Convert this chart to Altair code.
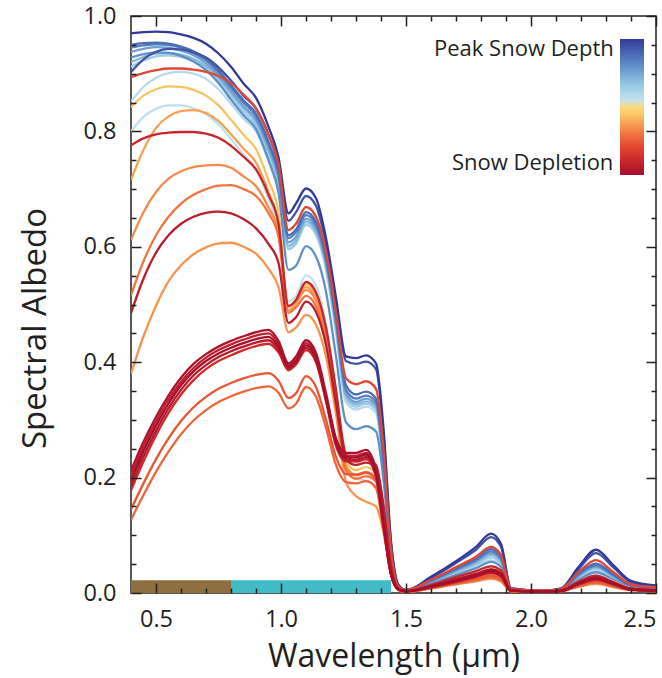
import altair as alt
import pandas as pd

# ---------------- data ----------------
WAVELENGTH = [0.40, 0.45, 0.50, 0.55, 0.60, 0.65, 0.70, 0.75, 0.80, 0.85, 0.90, 0.95, 0.99,
              1.03, 1.06, 1.10, 1.14, 1.18, 1.22, 1.26, 1.30, 1.34, 1.38, 1.41, 1.44, 1.47,
              1.50, 1.60, 1.70, 1.78, 1.84, 1.88, 1.92, 2.05, 2.12, 2.19, 2.26, 2.33, 2.40, 2.50]

c01 = [0.970, 0.972, 0.973, 0.972, 0.968, 0.962, 0.952, 0.935, 0.912, 0.883, 0.858, 0.808, 0.755,
       0.658, 0.675, 0.701, 0.684, 0.615, 0.512, 0.410, 0.407, 0.412, 0.398, 0.285, 0.090, 0.014,
       0.005, 0.028, 0.055, 0.080, 0.103, 0.085, 0.008, 0.004, 0.008, 0.045, 0.075, 0.048, 0.021, 0.013]
c02 = [0.903, 0.925, 0.938, 0.943, 0.942, 0.937, 0.928, 0.911, 0.888, 0.862, 0.840, 0.795, 0.742,
       0.645, 0.660, 0.688, 0.671, 0.604, 0.502, 0.402, 0.397, 0.401, 0.388, 0.276, 0.086, 0.013,
       0.005, 0.026, 0.052, 0.075, 0.097, 0.080, 0.008, 0.004, 0.007, 0.041, 0.069, 0.044, 0.019, 0.012]
b4 = [0.950, 0.953, 0.954, 0.952, 0.947, 0.939, 0.926, 0.906, 0.880, 0.854, 0.831, 0.782, 0.730,
      0.620, 0.630, 0.660, 0.643, 0.583, 0.478, 0.360, 0.344, 0.349, 0.337, 0.236, 0.072, 0.011,
      0.005, 0.022, 0.043, 0.060, 0.076, 0.063, 0.007, 0.003, 0.006, 0.034, 0.051, 0.032, 0.014, 0.009]
b1 = [0.945, 0.949, 0.951, 0.950, 0.945, 0.936, 0.923, 0.902, 0.876, 0.850, 0.827, 0.778, 0.726,
      0.615, 0.625, 0.655, 0.638, 0.578, 0.472, 0.352, 0.337, 0.342, 0.331, 0.230, 0.069, 0.010,
      0.005, 0.021, 0.041, 0.057, 0.072, 0.060, 0.007, 0.003, 0.006, 0.032, 0.048, 0.031, 0.013, 0.009]
b2 = [0.938, 0.943, 0.946, 0.945, 0.940, 0.932, 0.918, 0.897, 0.870, 0.844, 0.821, 0.772, 0.720,
      0.608, 0.617, 0.649, 0.632, 0.573, 0.466, 0.346, 0.331, 0.337, 0.326, 0.226, 0.067, 0.010,
      0.005, 0.020, 0.039, 0.055, 0.069, 0.057, 0.007, 0.003, 0.006, 0.030, 0.046, 0.029, 0.013, 0.008]
b3 = [0.920, 0.929, 0.935, 0.936, 0.933, 0.926, 0.913, 0.893, 0.866, 0.840, 0.817, 0.767, 0.714,
      0.602, 0.611, 0.644, 0.627, 0.568, 0.460, 0.341, 0.327, 0.332, 0.322, 0.222, 0.066, 0.009,
      0.005, 0.019, 0.037, 0.052, 0.066, 0.055, 0.006, 0.003, 0.006, 0.029, 0.045, 0.028, 0.012, 0.008]
b5 = [0.912, 0.923, 0.930, 0.932, 0.929, 0.922, 0.909, 0.888, 0.860, 0.834, 0.811, 0.760, 0.706,
      0.596, 0.605, 0.638, 0.621, 0.562, 0.455, 0.336, 0.323, 0.328, 0.318, 0.219, 0.064, 0.009,
      0.004, 0.018, 0.035, 0.049, 0.062, 0.051, 0.006, 0.003, 0.005, 0.027, 0.042, 0.026, 0.011, 0.007]
bl = [0.928, 0.934, 0.937, 0.936, 0.931, 0.921, 0.906, 0.884, 0.855, 0.828, 0.804, 0.750, 0.694,
      0.560, 0.567, 0.601, 0.583, 0.522, 0.410, 0.296, 0.284, 0.289, 0.280, 0.196, 0.059, 0.008,
      0.004, 0.016, 0.031, 0.043, 0.054, 0.045, 0.005, 0.003, 0.005, 0.023, 0.036, 0.023, 0.010, 0.006]
lb1 = [0.852, 0.877, 0.893, 0.901, 0.903, 0.900, 0.891, 0.873, 0.848, 0.822, 0.800, 0.750, 0.698,
       0.598, 0.606, 0.641, 0.623, 0.563, 0.452, 0.330, 0.318, 0.323, 0.312, 0.214, 0.062, 0.009,
       0.004, 0.016, 0.032, 0.045, 0.057, 0.047, 0.005, 0.003, 0.005, 0.024, 0.038, 0.024, 0.010, 0.007]
m2 = [0.800, 0.825, 0.839, 0.845, 0.845, 0.840, 0.830, 0.812, 0.787, 0.760, 0.735, 0.683, 0.628,
      0.505, 0.515, 0.551, 0.532, 0.466, 0.350, 0.222, 0.198, 0.195, 0.186, 0.128, 0.040, 0.006,
      0.003, 0.013, 0.026, 0.036, 0.046, 0.038, 0.004, 0.002, 0.004, 0.020, 0.031, 0.020, 0.008, 0.005]
rh = [0.894, 0.901, 0.906, 0.909, 0.909, 0.907, 0.903, 0.896, 0.884, 0.864, 0.840, 0.794, 0.744,
      0.629, 0.640, 0.669, 0.652, 0.592, 0.487, 0.372, 0.362, 0.367, 0.354, 0.250, 0.075, 0.011,
      0.005, 0.023, 0.045, 0.063, 0.080, 0.066, 0.007, 0.004, 0.007, 0.036, 0.057, 0.036, 0.015, 0.010]
m1 = [0.842, 0.862, 0.873, 0.878, 0.877, 0.872, 0.862, 0.845, 0.820, 0.794, 0.769, 0.715, 0.660,
      0.485, 0.500, 0.535, 0.517, 0.453, 0.342, 0.228, 0.213, 0.218, 0.208, 0.144, 0.044, 0.007,
      0.003, 0.012, 0.024, 0.033, 0.041, 0.034, 0.004, 0.002, 0.004, 0.018, 0.028, 0.018, 0.008, 0.005]
m3 = [0.716, 0.768, 0.806, 0.826, 0.835, 0.837, 0.832, 0.818, 0.795, 0.770, 0.746, 0.695, 0.640,
      0.490, 0.502, 0.530, 0.512, 0.448, 0.338, 0.220, 0.205, 0.210, 0.200, 0.138, 0.042, 0.006,
      0.003, 0.011, 0.022, 0.031, 0.038, 0.032, 0.004, 0.002, 0.004, 0.016, 0.025, 0.016, 0.007, 0.004]
m8 = [0.380, 0.445, 0.498, 0.540, 0.568, 0.587, 0.599, 0.606, 0.607, 0.600, 0.588, 0.562, 0.530,
      0.452, 0.460, 0.482, 0.465, 0.410, 0.310, 0.192, 0.168, 0.158, 0.150, 0.105, 0.033, 0.005,
      0.002, 0.008, 0.015, 0.020, 0.025, 0.020, 0.003, 0.001, 0.003, 0.011, 0.016, 0.010, 0.005, 0.003]
m5 = [0.612, 0.660, 0.695, 0.718, 0.731, 0.738, 0.741, 0.742, 0.737, 0.722, 0.705, 0.668, 0.625,
      0.498, 0.505, 0.525, 0.507, 0.446, 0.338, 0.218, 0.204, 0.208, 0.198, 0.136, 0.042, 0.006,
      0.003, 0.010, 0.020, 0.028, 0.035, 0.029, 0.004, 0.002, 0.003, 0.015, 0.023, 0.015, 0.006, 0.004]
m6 = [0.516, 0.575, 0.620, 0.652, 0.675, 0.690, 0.700, 0.706, 0.707, 0.700, 0.688, 0.658, 0.618,
      0.486, 0.495, 0.515, 0.497, 0.438, 0.332, 0.212, 0.198, 0.202, 0.193, 0.132, 0.040, 0.006,
      0.003, 0.010, 0.019, 0.026, 0.033, 0.027, 0.004, 0.002, 0.003, 0.014, 0.022, 0.014, 0.006, 0.004]
l7 = [0.127, 0.170, 0.210, 0.245, 0.275, 0.299, 0.317, 0.331, 0.341, 0.349, 0.355, 0.358, 0.347,
      0.320, 0.328, 0.357, 0.340, 0.286, 0.222, 0.192, 0.190, 0.194, 0.182, 0.110, 0.032, 0.005,
      0.002, 0.008, 0.016, 0.022, 0.027, 0.022, 0.003, 0.001, 0.003, 0.011, 0.018, 0.011, 0.005, 0.003]
l6 = [0.145, 0.190, 0.232, 0.268, 0.298, 0.322, 0.340, 0.354, 0.364, 0.372, 0.378, 0.381, 0.368,
      0.338, 0.346, 0.376, 0.357, 0.300, 0.236, 0.206, 0.205, 0.209, 0.195, 0.116, 0.034, 0.006,
      0.002, 0.009, 0.018, 0.025, 0.030, 0.025, 0.003, 0.002, 0.003, 0.013, 0.020, 0.013, 0.006, 0.004]
l5 = [0.178, 0.228, 0.273, 0.312, 0.344, 0.369, 0.388, 0.402, 0.412, 0.421, 0.428, 0.432, 0.417,
      0.386, 0.396, 0.421, 0.400, 0.332, 0.255, 0.228, 0.228, 0.232, 0.201, 0.115, 0.032, 0.006,
      0.003, 0.010, 0.019, 0.028, 0.035, 0.029, 0.004, 0.002, 0.003, 0.015, 0.023, 0.015, 0.006, 0.004]
m4 = [0.776, 0.788, 0.795, 0.798, 0.799, 0.799, 0.796, 0.789, 0.775, 0.756, 0.734, 0.690, 0.640,
      0.497, 0.508, 0.539, 0.521, 0.460, 0.352, 0.240, 0.228, 0.232, 0.222, 0.152, 0.046, 0.007,
      0.003, 0.014, 0.028, 0.038, 0.046, 0.039, 0.004, 0.002, 0.004, 0.020, 0.030, 0.019, 0.008, 0.005]
l2 = [0.203, 0.254, 0.297, 0.335, 0.366, 0.390, 0.408, 0.421, 0.431, 0.439, 0.446, 0.450, 0.432,
      0.395, 0.406, 0.433, 0.411, 0.341, 0.264, 0.238, 0.238, 0.243, 0.210, 0.121, 0.034, 0.007,
      0.003, 0.011, 0.022, 0.031, 0.039, 0.032, 0.004, 0.002, 0.004, 0.016, 0.026, 0.016, 0.007, 0.005]
m7 = [0.485, 0.545, 0.590, 0.620, 0.640, 0.652, 0.659, 0.661, 0.658, 0.648, 0.632, 0.605, 0.572,
      0.468, 0.478, 0.505, 0.487, 0.430, 0.328, 0.232, 0.222, 0.226, 0.216, 0.148, 0.045, 0.007,
      0.003, 0.012, 0.024, 0.033, 0.040, 0.033, 0.004, 0.002, 0.004, 0.018, 0.027, 0.017, 0.007, 0.005]
l4 = [0.186, 0.237, 0.281, 0.320, 0.352, 0.377, 0.395, 0.409, 0.419, 0.427, 0.434, 0.438, 0.422,
      0.389, 0.399, 0.425, 0.404, 0.335, 0.258, 0.231, 0.231, 0.236, 0.204, 0.117, 0.032, 0.006,
      0.003, 0.010, 0.020, 0.029, 0.036, 0.030, 0.004, 0.002, 0.003, 0.015, 0.024, 0.015, 0.006, 0.004]
l1 = [0.212, 0.262, 0.305, 0.342, 0.373, 0.397, 0.414, 0.427, 0.437, 0.445, 0.452, 0.456, 0.437,
      0.398, 0.410, 0.438, 0.416, 0.346, 0.268, 0.243, 0.243, 0.248, 0.214, 0.124, 0.035, 0.007,
      0.003, 0.012, 0.023, 0.032, 0.041, 0.034, 0.004, 0.002, 0.004, 0.017, 0.027, 0.017, 0.007, 0.005]
l3 = [0.195, 0.246, 0.290, 0.328, 0.360, 0.384, 0.402, 0.415, 0.425, 0.433, 0.440, 0.444, 0.427,
      0.392, 0.402, 0.429, 0.407, 0.338, 0.261, 0.235, 0.235, 0.240, 0.207, 0.119, 0.033, 0.006,
      0.003, 0.011, 0.021, 0.030, 0.038, 0.031, 0.004, 0.002, 0.004, 0.016, 0.025, 0.016, 0.006, 0.004]

# snow stage of each curve: 1 = peak snow depth, 0 = snow depletion (drawing order)
CURVE_NAMES = ["lb1", "b5", "b3", "b2", "bl", "b1", "b4", "c02", "c01", "m2",
               "m1", "m3", "m8", "m5", "m6", "l7", "l6", "rh", "l5", "m4", "l2", "m7", "l4", "l1", "l3"]
CURVE_STAGE = [0.58, 0.64, 0.70, 0.76, 0.80, 0.84, 0.88, 0.94, 1.00, 0.56,
               0.44, 0.38, 0.36, 0.34, 0.30, 0.27, 0.24, 0.20, 0.12, 0.10, 0.08, 0.06, 0.05, 0.02, 0.00]
CURVE_VALUES = [lb1, b5, b3, b2, bl, b1, b4, c02, c01, m2,
                m1, m3, m8, m5, m6, l7, l6, rh, l5, m4, l2, m7, l4, l1, l3]

# coloured band strip along the bottom
BAND_START = [0.40, 0.80]
BAND_END = [0.80, 1.44]
BAND_TOP = [0.022, 0.022]
BAND_COLORS = ["#8e6f3f", "#41bcc7"]

# colour scale of the snow stage
STAGE_STOPS = [0.0, 0.12, 0.25, 0.36, 0.46, 0.515, 0.525, 0.65, 0.80, 1.0]
STAGE_COLORS = ["#a50f2d", "#cf2a2a", "#ea5a36", "#f7954f", "#fbcf66", "#f9e08a",
                "#cde8f1", "#9ccbe5", "#5f91c8", "#33399a"]
LEGEND_LABELS = ["Peak Snow Depth", "Snow Depletion"]

X_MAJOR = [0.5, 1.0, 1.5, 2.0, 2.5]
X_MINOR = [0.6, 0.7, 0.8, 0.9, 1.1, 1.2, 1.3, 1.4, 1.6, 1.7, 1.8, 1.9, 2.1, 2.2, 2.3, 2.4]
Y_MAJOR = [0.0, 0.2, 0.4, 0.6, 0.8, 1.0]
Y_MINOR = [0.05, 0.1, 0.15, 0.25, 0.3, 0.35, 0.45, 0.5, 0.55, 0.65, 0.7, 0.75, 0.85, 0.9, 0.95]

# ---------------- build tables ----------------
rows = []
for name, stage, vals in zip(CURVE_NAMES, CURVE_STAGE, CURVE_VALUES):
    for w, v in zip(WAVELENGTH, vals):
        rows.append({"curve": name, "stage": stage, "wl": w, "albedo": v})
df = pd.DataFrame(rows)
df_hi = df[df["stage"] >= 0.5]
df_lo = df[df["stage"] < 0.5]

bands = pd.DataFrame({"start": BAND_START, "end": BAND_END, "base": [0.0, 0.0],
                      "top": BAND_TOP, "color": BAND_COLORS})

FONT = "Open Sans"
INK = "#231f20"

xs = alt.Scale(domain=[0.4, 2.5], nice=False, zero=False)
ys = alt.Scale(domain=[0.0, 1.0], nice=False, zero=False)


def tick_axis(orient, values, size, **kw):
    opts = dict(orient=orient, values=values, tickSize=size, offset=-size, domain=False,
                grid=False, tickColor=INK, tickWidth=1.5, zindex=1)
    opts.update(kw)
    if "labels" not in opts:
        opts["labels"] = False
    if "title" not in opts:
        opts["title"] = None
    return alt.Axis(**opts)


x_bottom_major = tick_axis("bottom", X_MAJOR, 10, labels=True, format=".1f",
                           labelFont=FONT, labelFontSize=23.5, labelColor=INK, labelPadding=14,
                           labelFlush=3, labelOverlap=False,
                           title="Wavelength (µm)", titleFont=FONT, titleFontSize=32,
                           titleFontWeight="normal", titleColor=INK, titlePadding=11)
y_left_major = tick_axis("left", Y_MAJOR, 10, labels=True, format=".1f",
                         labelFont=FONT, labelFontSize=23.5, labelColor=INK, labelPadding=15,
                         labelFlush=False, labelOverlap=False,
                         title="Spectral Albedo", titleFont=FONT, titleFontSize=33,
                         titleFontWeight="normal", titleColor=INK, titlePadding=30, titleY=312)
x_bottom_minor = tick_axis("bottom", X_MINOR, 5)
y_left_minor = tick_axis("left", Y_MINOR, 5)
x_top_major = tick_axis("top", X_MAJOR, 10)
y_right_major = tick_axis("right", Y_MAJOR, 10)
x_top_minor = tick_axis("top", X_MINOR, 5)
y_right_minor = tick_axis("right", Y_MINOR, 5)

color_scale = alt.Scale(domain=STAGE_STOPS, range=STAGE_COLORS, interpolate="rgb")
# labels sit to the left of the gradient, right-aligned 7px from it
legend = alt.Legend(orient="none", legendX=489, legendY=23, direction="vertical", title=None,
                    gradientLength=136, gradientThickness=24, gradientStrokeWidth=0,
                    values=[0, 1],
                    labelExpr=f"datum.value > 0.5 ? '{LEGEND_LABELS[0]}' : '{LEGEND_LABELS[1]}'",
                    labelOffset={"expr": "datum.value > 0.5 ? -210 : -192"},
                    labelFont=FONT, labelFontSize=22, labelColor=INK, labelOverlap=False,
                    labelLimit=300, padding=0)

band_vis = alt.Chart(bands.iloc[[0]]).mark_rect(color=BAND_COLORS[0]).encode(
    x=alt.X("start:Q", scale=xs, axis=x_bottom_major),
    x2="end:Q",
    y=alt.Y("base:Q", scale=ys, axis=y_left_major),
    y2="top:Q",
)
band_nir = alt.Chart(bands.iloc[[1]]).mark_rect(color=BAND_COLORS[1]).encode(
    x=alt.X("start:Q", scale=xs, axis=x_bottom_minor),
    x2="end:Q",
    y=alt.Y("base:Q", scale=ys, axis=y_left_minor),
    y2="top:Q",
)
lines_hi = alt.Chart(df_hi).mark_line(interpolate="monotone", strokeWidth=2.3, clip=True).encode(
    x=alt.X("wl:Q", scale=xs, axis=x_top_major),
    y=alt.Y("albedo:Q", scale=ys, axis=y_right_major),
    color=alt.Color("stage:Q", scale=color_scale, legend=legend),
    detail="curve:N",
)
lines_lo = alt.Chart(df_lo).mark_line(interpolate="monotone", strokeWidth=2.3, clip=True).encode(
    x=alt.X("wl:Q", scale=xs, axis=x_top_minor),
    y=alt.Y("albedo:Q", scale=ys, axis=y_right_minor),
    color=alt.Color("stage:Q", scale=color_scale, legend=legend),
    detail="curve:N",
)

chart = (
    alt.layer(band_vis, band_nir, lines_hi, lines_lo)
    .resolve_axis(x="independent", y="independent")
    .properties(width=525, height=577,
                padding={"left": 131, "top": 16, "right": 6, "bottom": 85},
                autosize=alt.AutoSizeParams(type="none"),
                background="white")
    .configure_view(stroke=INK, strokeWidth=1.5)
)

chart.save("out.html", embed_options={"renderer": "svg", "actions": False})
